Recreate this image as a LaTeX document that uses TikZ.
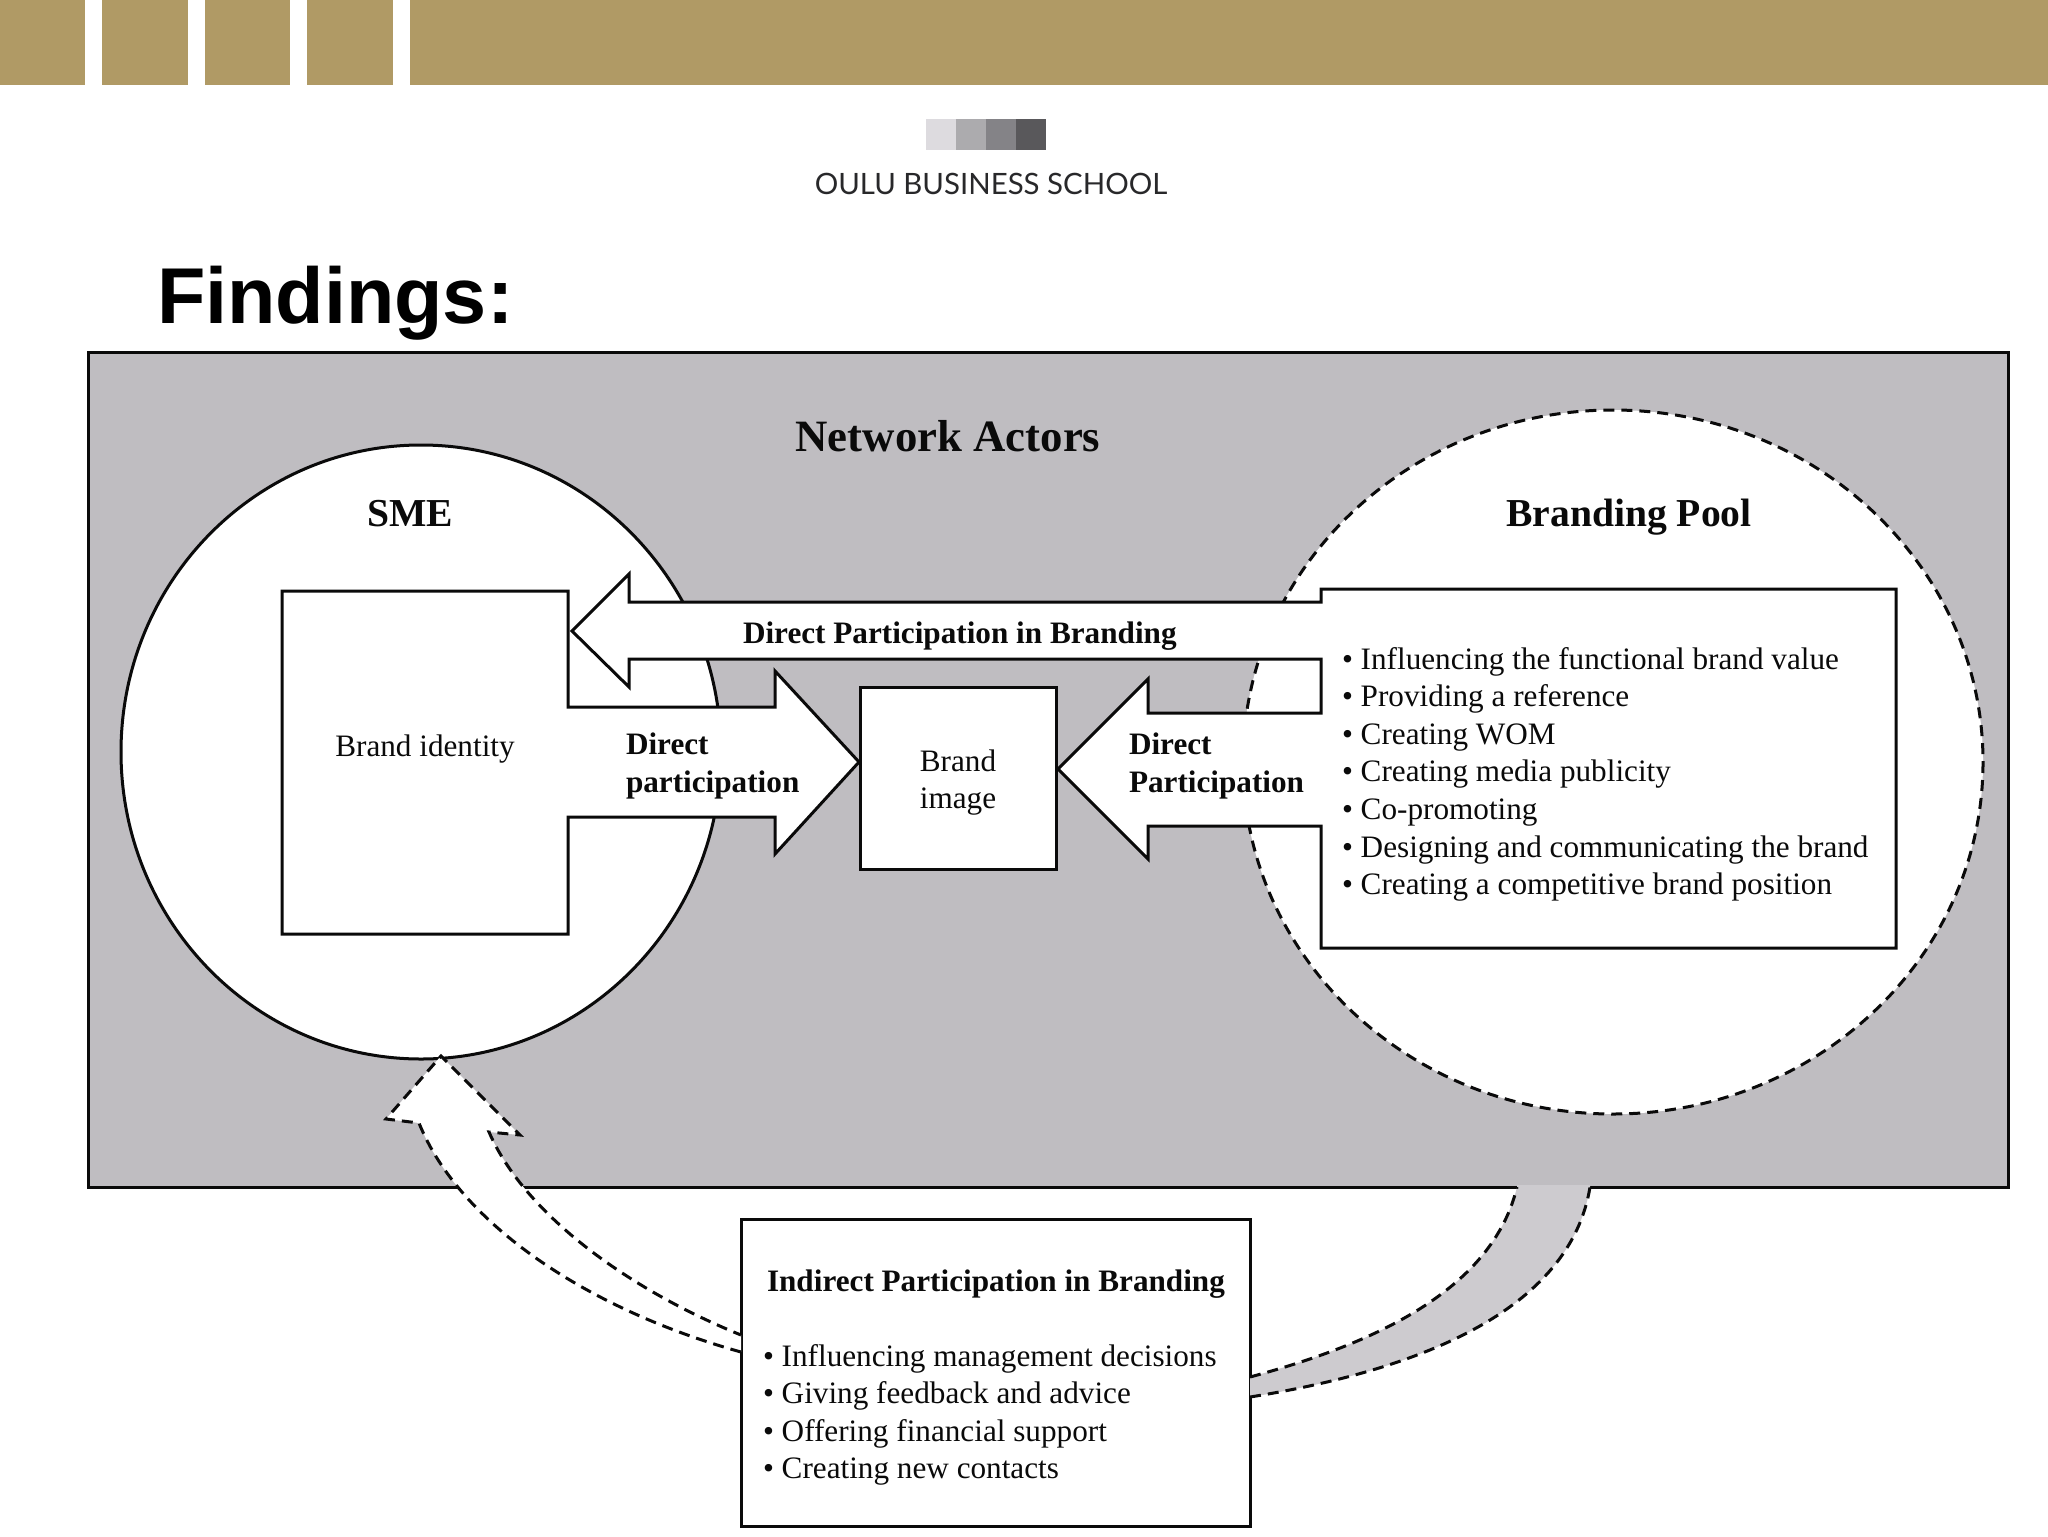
\documentclass[tikz,border=0pt]{standalone}
\usepackage{fontspec}
\setmainfont{Liberation Serif}
\newfontfamily\hdfont{Liberation Sans}
\newfontfamily\logofont{Lato}
\definecolor{barc}{HTML}{B09A65}
\definecolor{panel}{HTML}{BFBDC1}
\definecolor{band}{HTML}{CDCBCF}
\definecolor{ink}{HTML}{0A0A0A}
\newcommand{\pxf}[1]{\fontsize{#1pt}{#1pt}\selectfont}
\tikzset{
  bar/.style={fill=barc,draw=none},
  lw/.style={line width=1.5pt,draw=ink,line join=miter},
  dsh/.style={line width=1.5pt,draw=ink,dash pattern=on 5.5pt off 3.5pt},
  txt/.style={anchor=base west,inner sep=0pt,outer sep=0pt,text=ink},
  ctxt/.style={anchor=base,inner sep=0pt,outer sep=0pt,text=ink},
  body/.style={txt,font=\pxf{15.6}},
  bold/.style={txt,font=\bfseries\pxf{15.6}},
  cbody/.style={ctxt,font=\pxf{15.6}},
  head/.style={ctxt,font=\bfseries\pxf{19.8}},
}
\begin{document}
\begin{tikzpicture}[x=0.5pt,y=-0.5pt]
\useasboundingbox (0,0) rectangle (2048,1536);
% top bars
\fill[bar] (0,0) rectangle (85,85);
\fill[bar] (102,0) rectangle (188,85);
\fill[bar] (205,0) rectangle (290,85);
\fill[bar] (307,0) rectangle (393,85);
\fill[bar] (410,0) rectangle (2048,85);
% logo
\fill[fill={rgb,255:red,221;green,219;blue,223}] (926,119) rectangle (956,150);
\fill[fill={rgb,255:red,172;green,171;blue,174}] (956,119) rectangle (986,150);
\fill[fill={rgb,255:red,132;green,131;blue,135}] (986,119) rectangle (1016,150);
\fill[fill={rgb,255:red,89;green,88;blue,91}] (1016,119) rectangle (1046,150);
\node[ctxt,font=\logofont\pxf{14.7},text={rgb,255:red,40;green,40;blue,42}] (logotext) at (991,194) {OULU BUSINESS SCHOOL};
% title
\node[txt,font=\hdfont\bfseries\pxf{39.6},text=black] (title) at (157,323) {Findings:};
% panel
\node[lw,fill=panel,rectangle,inner sep=0pt,outer sep=0pt,minimum width=960pt,minimum height=417.5pt,anchor=north west] (panelbox) at (88,352) {};
% circles
\draw[lw,fill=white] (421,752) ellipse [x radius=300,y radius=307];
\fill[white] (1613,762) ellipse [x radius=370,y radius=352];
\draw[dsh] (1613,762) ellipse [x radius=370,y radius=352];
% brand identity shape
\draw[lw,fill=white] (282,591) -- (568,591) -- (568,707) -- (775,707) -- (775,671) -- (859,762)
  -- (775,854) -- (775,817) -- (568,817) -- (568,934) -- (282,934) -- cycle;
% right box with arrows
\draw[lw,fill=white] (572,631) -- (629,574) -- (629,602) -- (1321,602) -- (1321,589) -- (1896,589)
  -- (1896,948) -- (1321,948) -- (1321,826) -- (1148,826) -- (1148,859) -- (1058,769) -- (1148,679)
  -- (1148,713) -- (1321,713) -- (1321,659) -- (629,659) -- (629,687) -- cycle;
% brand image
\node[lw,fill=white,rectangle,inner sep=0pt,outer sep=0pt,minimum width=98pt,minimum height=91pt,anchor=north west] (imgbox) at (860,687) {};
% indirect box
\node[lw,fill=white,rectangle,inner sep=0pt,outer sep=0pt,minimum width=254.5pt,minimum height=153.5pt,anchor=north west] (indbox) at (741,1219) {};
% curved white arrow
\coordinate (wl) at (indbox.west |- 0,1352);
\coordinate (wr) at (indbox.west |- 0,1335);
\coordinate (wtip) at (441,1056);
\fill[white] (wl) .. controls (590,1310) and (460,1225) .. (419,1123) -- (386,1119) -- (wtip) -- (520,1135) -- (489,1132)
  .. controls (525,1215) and (630,1290) .. (wr) -- cycle;
\draw[dsh] (wl) .. controls (590,1310) and (460,1225) .. (419,1123) -- (386,1119) -- (wtip) -- (520,1135) -- (489,1132)
  .. controls (525,1215) and (630,1290) .. (wr);
% curved grey band
\coordinate (gu) at (indbox.east |- 0,1377);
\coordinate (gl) at (indbox.east |- 0,1397);
\fill[band] (gu) .. controls (1350,1350) and (1490,1300) .. (1517,1187) -- (1517,1185) -- (1590,1185) -- (1590,1187)
  .. controls (1570,1310) and (1420,1370) .. (gl) -- cycle;
\draw[dsh] (gu) .. controls (1350,1350) and (1490,1300) .. (1517,1187);
\draw[dsh] (gl) .. controls (1420,1370) and (1570,1310) .. (1590,1187);
% headings
\node[head,font=\bfseries\pxf{22.4}] (netact) at (948,451) {Network Actors};
\node[head] (sme) at (410,526) {SME};
\node[head] (pool) at (1629,526) {Branding Pool};
% texts
\node[ctxt,font=\pxf{15.6}] (bid) at (425,756) {Brand identity};
\node[bold] (dpb) at (743,643) {Direct Participation in Branding};
\node[bold] (d1) at (626,754) {Direct};
\node[bold] (d2) at (626,792) {participation};
\node[bold] (d3) at (1129,754) {Direct};
\node[bold] (d4) at (1129,792) {Participation};
\node[cbody] (bi1) at (958,771) {Brand};
\node[cbody] (bi2) at (958,808) {image};
% right list
\node[body] (r1) at (1342,669) {• Influencing the functional brand value};
\node[body] (r2) at (1342,706.6) {• Providing a reference};
\node[body] (r3) at (1342,744.2) {• Creating WOM};
\node[body] (r4) at (1342,781.8) {• Creating media publicity};
\node[body] (r5) at (1342,819.4) {• Co-promoting};
\node[body] (r6) at (1342,857) {• Designing and communicating the brand};
\node[body] (r7) at (1342,894.6) {• Creating a competitive brand position};
% indirect list
\node[bold] (ih) at (767,1291) {Indirect Participation in Branding};
\node[body] (i1) at (763,1366) {• Influencing management decisions};
\node[body] (i2) at (763,1403) {• Giving feedback and advice};
\node[body] (i3) at (763,1441) {• Offering financial support};
\node[body] (i4) at (763,1478) {• Creating new contacts};
\end{tikzpicture}
\end{document}
